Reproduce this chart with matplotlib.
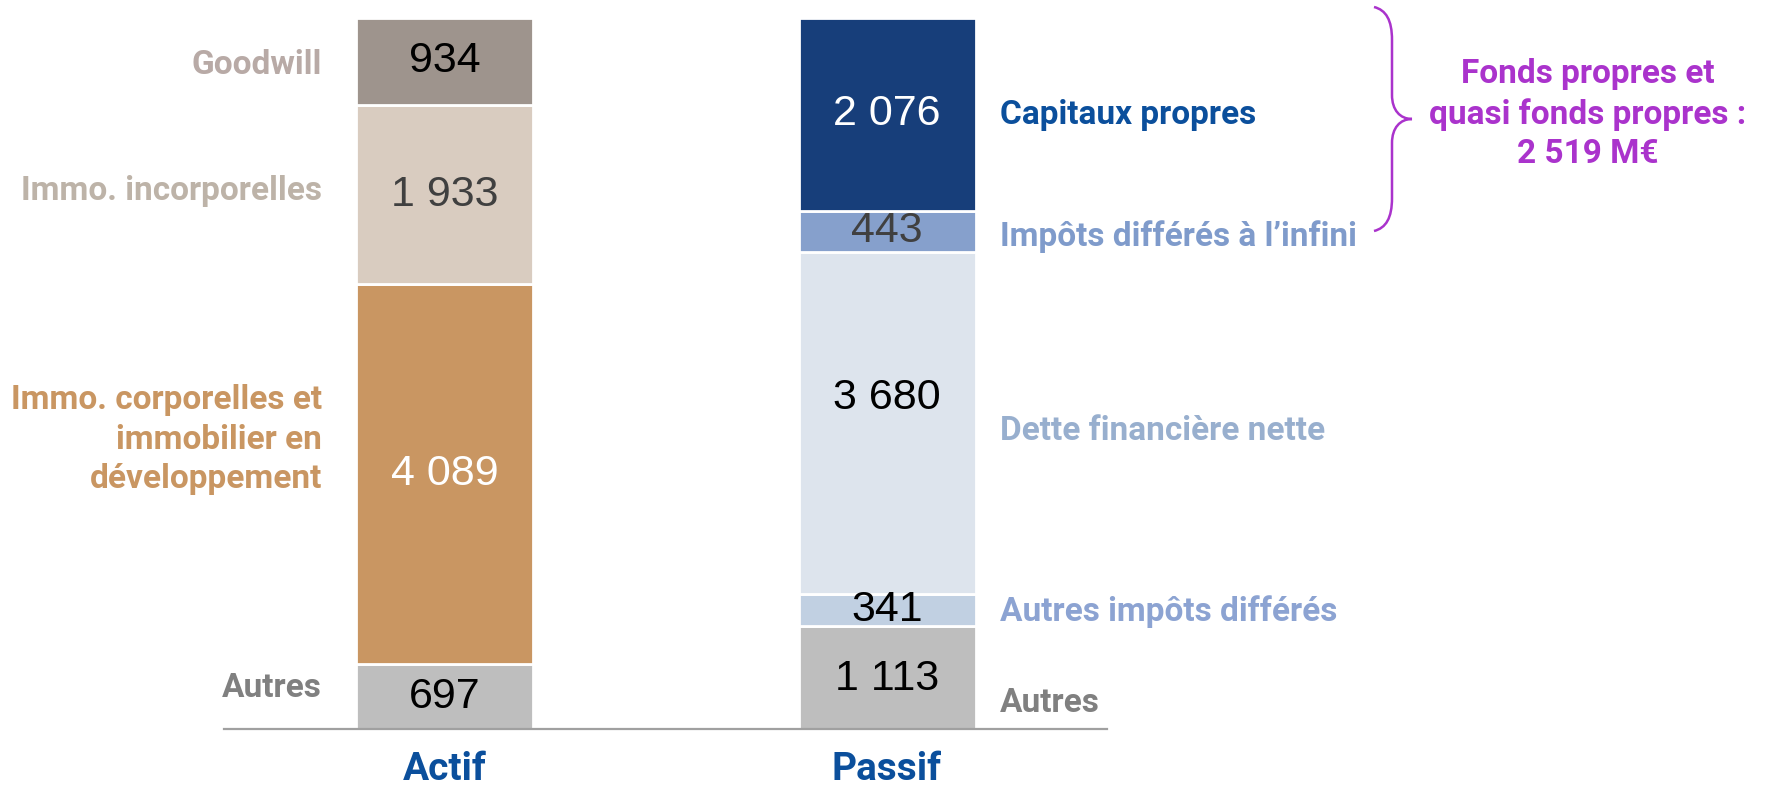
import matplotlib
matplotlib.use("Agg")
import matplotlib.pyplot as plt
from matplotlib.path import Path
from matplotlib.patches import PathPatch

# ---------------- data ----------------
bars = ["Actif", "Passif"]
actif_labels = ["Autres", "Immo. corporelles et\nimmobilier en\ndéveloppement",
                "Immo. incorporelles", "Goodwill"]
actif_values = [697, 4089, 1933, 934]
passif_labels = ["Autres", "Autres impôts différés", "Dette financière nette",
                 "Impôts différés à l’infini", "Capitaux propres"]
passif_values = [1113, 341, 3680, 443, 2076]
value_texts_actif = ["697", "4 089", "1 933", "934"]
value_texts_passif = ["1 113", "341", "3 680", "443", "2 076"]
annotation_text = "Fonds propres et\nquasi fonds propres :\n2 519 M€"

# ---------------- styles ----------------
actif_colors = ["#BEBEBE", "#C99662", "#D9CCC0", "#9E948D"]
actif_label_colors = ["#808080", "#C99662", "#BDB3A8", "#B8AAA6"]
actif_value_colors = ["#000000", "#FFFFFF", "#404040", "#000000"]
passif_colors = ["#BEBEBE", "#C1D0E2", "#DDE4ED", "#86A0CC", "#173E7A"]
passif_label_colors = ["#808080", "#8CA3D2", "#98AFCE", "#7F9BCB", "#0B4F9C"]
passif_value_colors = ["#000000", "#000000", "#000000", "#404040", "#FFFFFF"]
# vertical offsets (data units) of labels relative to segment centre
actif_label_dy = [90, 370, 40, -40]
passif_label_dy = [-280, -20, -90, -50, -10]
passif_value_dy = [-20, 0, 270, 0, 0]

W, H = 1771, 791
fig = plt.figure(figsize=(W / 100, H / 100), dpi=100)
total = sum(actif_values)
ax = fig.add_axes([224 / W, (H - 729) / H, (1107 - 224) / W, (729 - 18) / H])
ax.set_xlim(-0.498, 1.497)
ax.set_ylim(0, total)
for s in ["top", "right", "left"]:
    ax.spines[s].set_visible(False)
ax.spines["bottom"].set_color("#A0A0A0")
ax.spines["bottom"].set_linewidth(1.6)
ax.set_yticks([])
ax.set_xticks([])

bw = 0.40
label_font = dict(family=["Roboto", "DejaVu Sans"], fontweight="bold", fontsize=24)
num_font = dict(family=["Liberation Sans Narrow", "Liberation Sans", "DejaVu Sans"], fontsize=31)

# Actif
bottom = 0
for v, c, lab, lc, vt, vc, dy in zip(actif_values, actif_colors, actif_labels,
                                     actif_label_colors, value_texts_actif,
                                     actif_value_colors, actif_label_dy):
    ax.bar(0, v, width=bw, bottom=bottom, color=c, edgecolor="white", linewidth=2)
    mid = bottom + v / 2
    ax.text(0, mid, vt, ha="center", va="center", color=vc, **num_font)
    ax.text(-0.277, mid + dy, lab, ha="right", va="center", color=lc,
            linespacing=1.3, **label_font)
    bottom += v

# Passif
bottom = 0
for v, c, lab, lc, vt, vc, dy, vdy in zip(passif_values, passif_colors, passif_labels,
                                          passif_label_colors, value_texts_passif,
                                          passif_value_colors, passif_label_dy,
                                          passif_value_dy):
    ax.bar(1, v, width=bw, bottom=bottom, color=c, edgecolor="white", linewidth=2)
    mid = bottom + v / 2
    ax.text(1, mid + vdy, vt, ha="center", va="center", color=vc, **num_font)
    ax.text(1.256, mid + dy, lab, ha="left", va="center", color=lc, **label_font)
    bottom += v

for i, b in enumerate(bars):
    ax.text(i, -640, b, ha="center", va="bottom", color="#0B4F9C",
            family=["Roboto", "DejaVu Sans"], fontweight="bold", fontsize=28, clip_on=False)

# overlay in pixel coordinates for the brace and annotation
ov = fig.add_axes([0, 0, 1, 1])
ov.set_xlim(0, W)
ov.set_ylim(H, 0)
ov.axis("off")
verts = [(1374, 7), (1386, 10), (1392, 20), (1392, 40),
         (1392, 95),
         (1392, 110), (1400, 119), (1412, 119),
         (1400, 119), (1392, 128), (1392, 143),
         (1392, 198),
         (1392, 218), (1386, 228), (1374, 231)]
codes = [Path.MOVETO, Path.CURVE4, Path.CURVE4, Path.CURVE4,
         Path.LINETO,
         Path.CURVE4, Path.CURVE4, Path.CURVE4,
         Path.CURVE4, Path.CURVE4, Path.CURVE4,
         Path.LINETO,
         Path.CURVE4, Path.CURVE4, Path.CURVE4]
ov.add_patch(PathPatch(Path(verts, codes), facecolor="none", edgecolor="#AA33CC", lw=1.8))
ov.text(1588, 114, annotation_text, ha="center", va="center", color="#AA33CC",
        linespacing=1.3, **label_font)

fig.savefig("out.png", dpi=100)
